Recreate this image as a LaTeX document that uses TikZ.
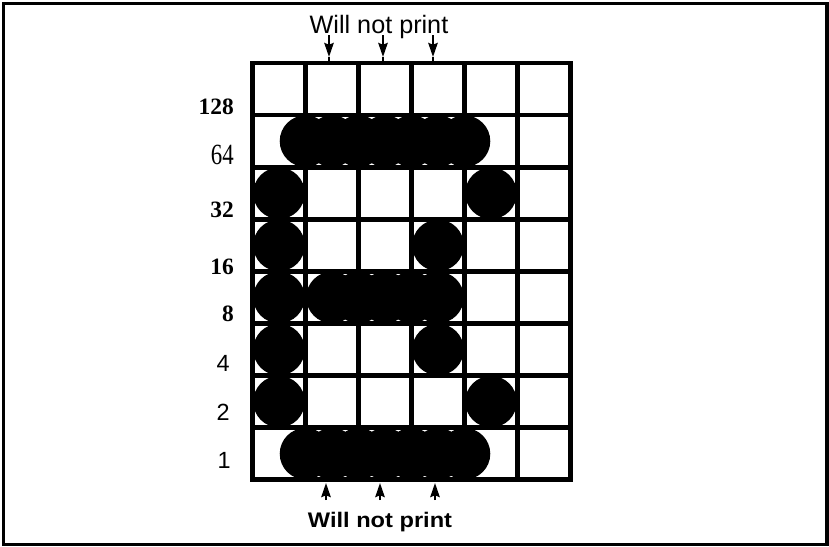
\documentclass[tikz,border=0pt]{standalone}
\usepackage{fontspec}
\setmainfont{Liberation Sans}
\newfontfamily\numserif{Liberation Serif}
\newfontfamily\numnarrow[FakeStretch=0.78]{Liberation Serif}
\newfontfamily\capwide[FakeStretch=1.12]{Liberation Sans}
\usetikzlibrary{arrows.meta}
\tikzset{
  gridline/.style={line width=4pt, line cap=rect},
  dotmark/.style={fill=black},
  boldnum/.style={anchor=east, inner sep=0pt, font=\numserif\bfseries\fontsize{20}{22}\selectfont},
  plainnum/.style={anchor=east, inner sep=0pt, font=\numnarrow\fontsize{25}{27}\selectfont},
  sansnum/.style={anchor=east, inner sep=0pt, font=\fontsize{20}{22}\selectfont},
  noteup/.style={line width=1.8pt, -{Stealth[length=12pt,width=8pt,inset=1.5pt]}},
  stem/.style={line width=1.8pt}
}

\begin{document}
\begin{tikzpicture}[x=0.03cm, y=-0.03cm]
  \useasboundingbox (0,0) rectangle (829,546);
  \draw[line width=2.8pt] (3.5,3.5) rectangle (827,544.5);

  % dot matrix, one column = 53px, one row = 52.1px
  \begin{scope}[shift={(252.5,63)}, x=1.59cm, y=-1.563cm]
    \foreach \c in {1,1.5,...,4} {
      \fill[dotmark] (\c,1.5) circle[radius=22pt];
      \fill[dotmark] (\c,7.5) circle[radius=22pt];
    }
    \foreach \c in {1.5,2,...,3.5}
      \fill[dotmark] (\c,4.5) circle[radius=22pt];
    \foreach \r in {2,...,6}
      \fill[dotmark] (0.5,\r+0.5) circle[radius=22pt];
    \foreach \r/\c in {2/4.5, 3/3.5, 5/3.5, 6/4.5}
      \fill[dotmark] (\c,\r+0.5) circle[radius=22pt];
    \foreach \c in {0,...,6}
      \draw[gridline] (\c,0) -- (\c,8);
    \foreach \r in {0,...,8}
      \draw[gridline] (0,\r) -- (6,\r);
  \end{scope}

  % bit values
  \node[boldnum] (b128) at (234,107) {128};
  \node[plainnum] (b64) at (234,155) {64};
  \node[boldnum] (b32) at (234,210) {32};
  \node[boldnum] (b16) at (234,267) {16};
  \node[boldnum] (b8) at (234,314) {8};
  \node[sansnum] (b4) at (230,363) {4};
  \node[sansnum] (b2) at (230,412) {2};
  \node[sansnum] (b1) at (231,460) {1};

  \node[anchor=base, inner sep=0pt, font=\fontsize{21.5}{23}\selectfont] (topnote) at (379,33) {Will not print};
  \node[anchor=base, inner sep=0pt, font=\capwide\bfseries\fontsize{18}{20}\selectfont] (botnote) at (380,527) {Will not print};

  \foreach \i/\x in {1/329, 2/383, 3/433} {
    \coordinate (ta\i) at (\x,35);
    \coordinate (tt\i) at (\x,57);
    \coordinate (te\i) at (\x,63);
    \draw[noteup] (ta\i) -- (tt\i);
    \draw[stem] (tt\i) -- (te\i);
  }
  \foreach \i/\x in {1/326, 2/380, 3/435} {
    \coordinate (ba\i) at (\x,500);
    \coordinate (bt\i) at (\x,483);
    \draw[noteup] (ba\i) -- (bt\i);
  }
\end{tikzpicture}
\end{document}
